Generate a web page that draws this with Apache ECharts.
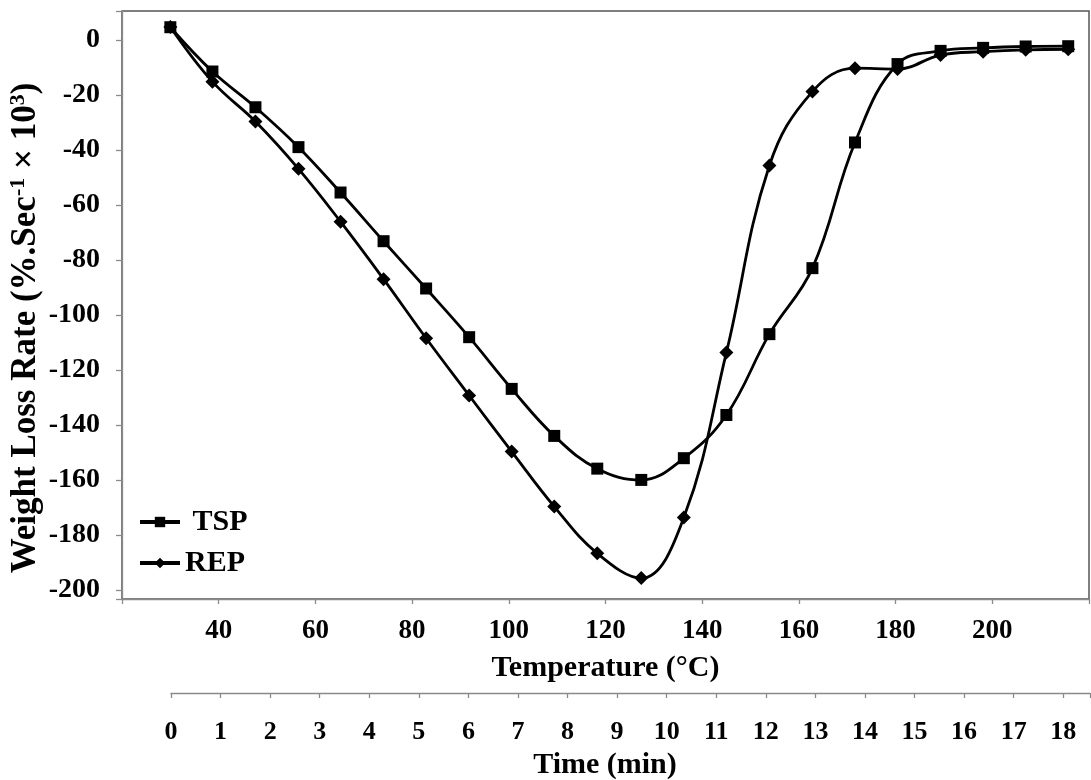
<!DOCTYPE html>
<html>
<head>
<meta charset="utf-8">
<script src="https://cdn.jsdelivr.net/npm/echarts@6/dist/echarts.min.js"></script>
<style>
html,body{margin:0;padding:0;background:#ffffff;}
#chart{width:1091px;height:780px;}
</style>
</head>
<body>
<div id="chart"></div>
<script>
// ---- data ----
const temperature = [30, 38.7, 47.6, 56.5, 65.2, 74.1, 82.9, 91.8, 100.6, 109.4, 118.3, 127.4, 136.2, 145.0, 153.9, 162.8, 171.6, 180.4, 189.3, 198.1, 206.9, 215.7];
const tspRate = [4.6, -11.5, -24.5, -39.0, -55.5, -73.2, -90.4, -108.1, -126.9, -144.0, -155.9, -160.0, -152.1, -136.4, -107.0, -83.0, -37.3, -8.8, -4.0, -2.9, -2.4, -2.3];
const repRate = [4.7, -15.2, -29.7, -46.9, -66.1, -87.0, -108.5, -129.3, -149.7, -169.7, -186.7, -195.7, -173.7, -113.7, -45.7, -18.8, -10.3, -10.6, -5.5, -4.3, -3.6, -3.4];
const tempTickLabels = [40, 60, 80, 100, 120, 140, 160, 180, 200];
const rateTickLabels = [-200, -180, -160, -140, -120, -100, -80, -60, -40, -20, 0];
const timeTickLabels = [0, 1, 2, 3, 4, 5, 6, 7, 8, 9, 10, 11, 12, 13, 14, 15, 16, 17, 18];

const FONT = 'Liberation Serif';
const axisGray = '#8a8a8a';

const chart = echarts.init(document.getElementById('chart'), null, {renderer: 'canvas'});

const boldText = (size) => ({fontFamily: FONT, fontWeight: 'bold', fontSize: size, color: '#000'});
const onlyListed = (list) => (v) => (list.some((t) => Math.abs(t - v) < 1e-6) ? String(Math.round(v)) : '');

const option = {
  animation: false,
  backgroundColor: '#ffffff',
  grid: [
    {left: 122, right: 2, top: 11, bottom: 181, show: true, borderColor: '#555', borderWidth: 1.5, outerBoundsMode: 'none', containLabel: false},
    {left: 171, right: 1, top: 692, height: 1, show: false, outerBoundsMode: 'none', containLabel: false}
  ],
  legend: {
    orient: 'vertical',
    left: 138,
    top: 507,
    padding: 0,
    itemWidth: 40,
    itemHeight: 13,
    itemGap: 11,
    data: ['TSP', 'REP'],
    formatter: (n) => (n === 'TSP' ? ' TSP' : n),
    lineStyle: {width: 4, color: '#000'},
    textStyle: boldText(30)
  },
  xAxis: [
    {
      type: 'value', gridIndex: 0, min: 20, max: 220, interval: 20, position: 'bottom',
      axisLine: {show: true, onZero: false, lineStyle: {color: axisGray, width: 1.3}},
      axisTick: {show: true, length: 5, lineStyle: {color: axisGray, width: 1.3}},
      minorTick: {show: false},
      axisLabel: Object.assign({formatter: onlyListed(tempTickLabels), margin: 19, showMinLabel: true, showMaxLabel: true}, boldText(27)),
      splitLine: {show: false},
      name: 'Temperature (°C)', nameLocation: 'middle', nameGap: 54,
      nameTextStyle: boldText(30)
    },
    {
      type: 'value', gridIndex: 1, min: 0, max: 18.54, interval: 1, position: 'bottom',
      axisLine: {show: true, onZero: false, lineStyle: {color: axisGray, width: 1.3}},
      axisTick: {show: true, length: 5, lineStyle: {color: axisGray, width: 1.3}},
      minorTick: {show: false},
      axisLabel: Object.assign({formatter: onlyListed(timeTickLabels), margin: 26, showMinLabel: true, showMaxLabel: true}, boldText(26)),
      splitLine: {show: false},
      name: 'Time (min)', nameLocation: 'middle', nameGap: 57,
      nameTextStyle: Object.assign({padding: [0, 51, 0, 0]}, boldText(30))
    }
  ],
  yAxis: [
    {
      type: 'value', gridIndex: 0, min: -203.3, max: 10.5, splitNumber: 10,
      axisLine: {show: true, onZero: false, lineStyle: {color: axisGray, width: 1.3}},
      axisTick: {show: true, length: 6, lineStyle: {color: axisGray, width: 1.3}},
      minorTick: {show: false},
      axisLabel: Object.assign({formatter: onlyListed(rateTickLabels), margin: 22, showMinLabel: true, showMaxLabel: true}, boldText(28)),
      splitLine: {show: false}
    },
    {type: 'value', gridIndex: 1, min: 0, max: 1, show: false}
  ],
  graphic: [
    {
      type: 'text',
      x: 26, y: 328,
      rotation: Math.PI / 2,
      style: {
        text: '{t|Weight Loss Rate (%.Sec}{s|-1}{t| × 10}{s|3}{t|)}',
        align: 'center',
        verticalAlign: 'middle',
        fill: '#000',
        rich: {
          t: {fontFamily: FONT, fontWeight: 'bold', fontSize: 35, fill: '#000', color: '#000'},
          s: {fontFamily: FONT, fontWeight: 'bold', fontSize: 22, fill: '#000', color: '#000', padding: [0, 0, 16, 0]}
        }
      }
    }
  ],
  series: [
    {
      name: 'TSP', type: 'line', xAxisIndex: 0, yAxisIndex: 0,
      data: temperature.map((t, i) => [t, tspRate[i]]),
      smooth: 0.4,
      symbol: 'rect', symbolSize: 12,
      lineStyle: {color: '#000', width: 2.8},
      itemStyle: {color: '#000'},
      z: 3
    },
    {
      name: 'REP', type: 'line', xAxisIndex: 0, yAxisIndex: 0,
      data: temperature.map((t, i) => [t, repRate[i]]),
      smooth: 0.4,
      symbol: 'diamond', symbolSize: 14,
      lineStyle: {color: '#000', width: 2.8},
      itemStyle: {color: '#000'},
      z: 3
    }
  ]
};

chart.setOption(option);
</script>
</body>
</html>
